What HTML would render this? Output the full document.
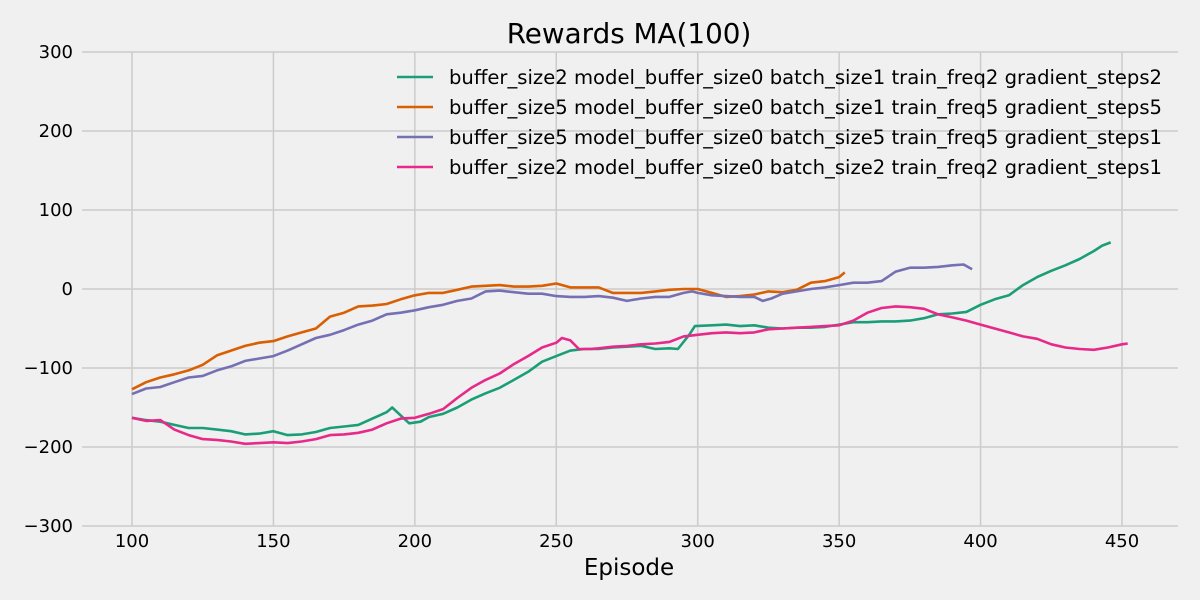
<!DOCTYPE html>
<html><head><meta charset="utf-8"><style>
html,body{margin:0;padding:0;background:#f0f0f0;}
svg{display:block;font-family:"DejaVu Sans","Liberation Sans",sans-serif;}
</style></head><body>
<svg id="chart" width="1200" height="600" viewBox="0 0 1200 600">
<rect x="0" y="0" width="1200" height="600" fill="#f0f0f0"/>
<g id="grid"></g>
<g id="ticks"></g>
<g id="series"></g>
<text x="629" y="43" text-anchor="middle" font-size="27.8" fill="#000">Rewards MA(100)</text>
<text x="629" y="575" text-anchor="middle" font-size="23" fill="#000">Episode</text>
<g id="legend"></g>
</svg>
<script>
const xTicks=[100,150,200,250,300,350,400,450];
const yTicks=[-300,-200,-100,0,100,200,300];
const seriesNames=["buffer_size2 model_buffer_size0 batch_size1 train_freq2 gradient_steps2","buffer_size5 model_buffer_size0 batch_size1 train_freq5 gradient_steps5","buffer_size5 model_buffer_size0 batch_size5 train_freq5 gradient_steps1","buffer_size2 model_buffer_size0 batch_size2 train_freq2 gradient_steps1"];
const seriesColors=["#1b9e77","#d95f02","#7570b3","#e7298a"];
const greenX=[100,105,110,115,120,125,130,135,140,145,150,155,160,165,170,175,180,185,190,192,195,198,202,205,210,215,220,225,230,235,240,245,250,255,260,265,270,275,280,285,290,293,297,299,305,310,315,320,325,330,335,340,345,350,355,360,365,370,375,380,385,390,395,400,405,410,415,420,425,430,435,440,443,446];
const greenY=[-163,-166,-168,-172,-176,-176,-178,-180,-184,-183,-180,-185,-184,-181,-176,-174,-172,-164,-156,-150,-160,-170,-168,-162,-158,-150,-140,-132,-125,-115,-105,-92,-85,-78,-76,-76,-74,-73,-72,-76,-75,-76,-58,-47,-46,-45,-47,-46,-49,-50,-49,-49,-48,-45,-42,-42,-41,-41,-40,-37,-32,-31,-29,-20,-13,-8,5,15,23,30,38,48,55,59];
const orangeX=[100,105,110,115,120,125,130,135,140,145,150,155,160,165,170,175,180,185,190,195,200,205,210,215,220,225,230,235,240,245,250,255,260,265,270,275,280,285,290,295,300,305,310,315,320,325,330,335,340,345,350,352];
const orangeY=[-127,-118,-112,-108,-103,-96,-84,-78,-72,-68,-66,-60,-55,-50,-35,-30,-22,-21,-19,-13,-8,-5,-5,-1,3,4,5,3,3,4,7,2,2,2,-5,-5,-5,-3,-1,0,0,-5,-10,-9,-7,-3,-4,-1,8,10,15,21];
const purpleX=[100,105,110,115,120,125,130,135,140,145,150,155,160,165,170,175,180,185,190,195,200,205,210,215,220,225,230,235,240,245,250,255,260,265,270,275,280,285,290,295,298,300,305,310,315,320,323,326,330,335,340,345,350,355,360,365,370,375,380,385,390,394,397];
const purpleY=[-133,-126,-124,-118,-112,-110,-103,-98,-91,-88,-85,-78,-70,-62,-58,-52,-45,-40,-32,-30,-27,-23,-20,-15,-12,-3,-2,-4,-6,-6,-9,-10,-10,-9,-11,-15,-12,-10,-10,-5,-3,-5,-8,-9,-10,-10,-15,-12,-6,-3,0,2,5,8,8,10,22,27,27,28,30,31,25];
const pinkX=[100,105,110,115,120,125,130,135,140,145,150,155,160,165,170,175,180,185,190,195,200,205,210,215,220,225,230,235,240,245,250,252,255,258,262,265,270,275,280,285,290,295,300,305,310,315,320,325,330,335,340,345,350,355,360,365,370,375,380,385,390,395,400,405,410,415,420,425,430,435,440,445,450,452];
const pinkY=[-163,-167,-166,-178,-185,-190,-191,-193,-196,-195,-194,-195,-193,-190,-185,-184,-182,-178,-170,-164,-163,-158,-152,-138,-125,-115,-107,-95,-85,-74,-68,-62,-65,-76,-76,-75,-73,-72,-70,-69,-67,-60,-58,-56,-55,-56,-55,-51,-50,-49,-48,-47,-46,-40,-30,-24,-22,-23,-25,-32,-36,-40,-45,-50,-55,-60,-63,-70,-74,-76,-77,-74,-70,-69];
const allX=[greenX,orangeX,purpleX,pinkX];
const allY=[greenY,orangeY,purpleY,pinkY];

const NS="http://www.w3.org/2000/svg";
const PL=82,PR=1178,PT=52,PB=526;
function xs(v){return 132+(v-100)*(990/350);}
function ys(v){return 289-v*(474/600);}
function mk(tag,attrs,parent){const e=document.createElementNS(NS,tag);for(const k in attrs)e.setAttribute(k,attrs[k]);parent.appendChild(e);return e;}
const grid=document.getElementById('grid'),ticks=document.getElementById('ticks'),ser=document.getElementById('series'),leg=document.getElementById('legend');
xTicks.forEach(t=>{
 const l=mk('line',{x1:xs(t),x2:xs(t),y1:PT,y2:PB,stroke:'#cbcbcb','stroke-width':1.5},grid);
 
 
 const tx=mk('text',{x:xs(t),y:547,'text-anchor':'middle','font-size':18,fill:'#000'},ticks);
 tx.textContent=t;
 
 
});
yTicks.forEach(t=>{
 const l=mk('line',{x1:PL,x2:PR,y1:ys(t),y2:ys(t),stroke:'#cbcbcb','stroke-width':1.5},grid);
 
 
 const tx=mk('text',{x:73,y:ys(t)+6,'text-anchor':'end','font-size':18,fill:'#000'},ticks);
 tx.textContent=(t<0?'\u2212'+(-t):t);
 
 
});
allX.forEach((xa,i)=>{
 const d=xa.map((x,j)=>(j?'L':'M')+xs(x).toFixed(1)+' '+ys(allY[i][j]).toFixed(1)).join(' ');
 const p=mk('path',{d:d,fill:'none',stroke:seriesColors[i],'stroke-width':2.6,'stroke-linejoin':'round'},ser);
 
 
});
seriesNames.forEach((n,i)=>{
 const y=77+i*30;
 const l=mk('line',{x1:397,x2:433,y1:y,y2:y,stroke:seriesColors[i],'stroke-width':2.6},leg);
 
 
 const t=mk('text',{x:449,y:y+7,'font-size':19.6,fill:'#000'},leg);
 t.textContent=n;
 
 
});
</script>
</body></html>
